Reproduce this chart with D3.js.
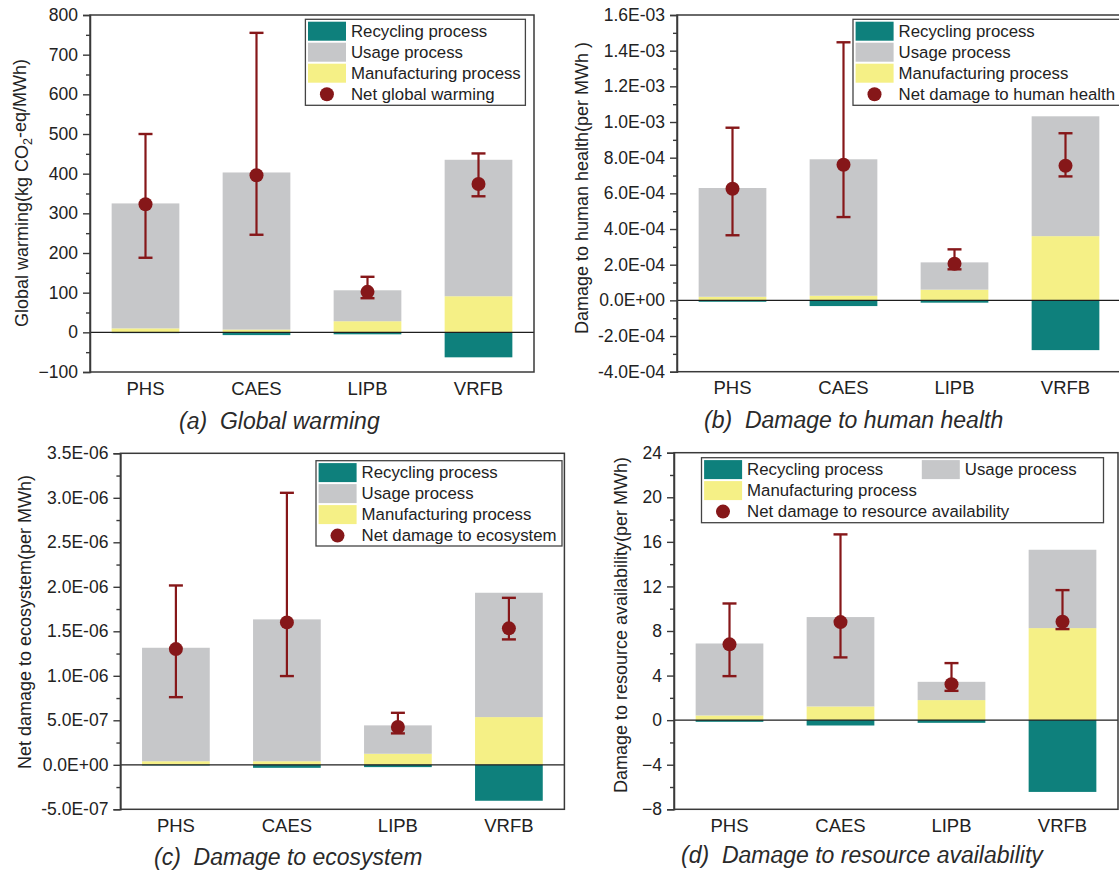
<!DOCTYPE html>
<html>
<head>
<meta charset="utf-8">
<script src="https://cdn.jsdelivr.net/npm/d3@7"></script>
<style>
  body { margin: 0; background: #fff; }
  svg { display: block; font-family: "Liberation Sans", Arial, sans-serif; }
</style>
</head>
<body>
<svg id="chart" width="1119" height="871"></svg>
<script>
// ---- data -------------------------------------------------------------
const categories = ["PHS", "CAES", "LIPB", "VRFB"];

// (a) Global warming, kg CO2-eq/MWh
const gwManufacturing = [10, 7, 28, 91];
const gwUsage         = [315, 396, 78, 344];
const gwRecycling     = [-2, -7, -5, -63];
const gwNet           = [323, 396, 102, 374];
const gwLow           = [188, 246, 86, 343];
const gwHigh          = [500, 755, 140, 451];
const gwTicks         = [-100, 0, 100, 200, 300, 400, 500, 600, 700, 800];

// (b) Damage to human health, per MWh
const hhManufacturing = [2.0e-5, 2.6e-5, 6.0e-5, 3.6e-4];
const hhUsage         = [6.10e-4, 7.65e-4, 1.53e-4, 6.72e-4];
const hhRecycling     = [-0.8e-5, -3.2e-5, -1.3e-5, -2.79e-4];
const hhNet           = [6.26e-4, 7.60e-4, 2.05e-4, 7.55e-4];
const hhLow           = [3.65e-4, 4.67e-4, 1.74e-4, 6.95e-4];
const hhHigh          = [9.68e-4, 1.447e-3, 2.86e-4, 9.37e-4];
const hhTicks         = [-4e-4, -2e-4, 0, 2e-4, 4e-4, 6e-4, 8e-4, 1.0e-3, 1.2e-3, 1.4e-3, 1.6e-3];

// (c) Damage to ecosystem, per MWh
const ecManufacturing = [4.0e-8, 4.0e-8, 1.24e-7, 5.36e-7];
const ecUsage         = [1.275e-6, 1.594e-6, 3.19e-7, 1.397e-6];
const ecRecycling     = [-0.7e-8, -3.4e-8, -2.6e-8, -4.04e-7];
const ecNet           = [1.30e-6, 1.60e-6, 4.24e-7, 1.533e-6];
const ecLow           = [7.6e-7, 9.97e-7, 3.53e-7, 1.409e-6];
const ecHigh          = [2.015e-6, 3.056e-6, 5.84e-7, 1.876e-6];
const ecTicks         = [-5e-7, 0, 5e-7, 1.0e-6, 1.5e-6, 2.0e-6, 2.5e-6, 3.0e-6, 3.5e-6];

// (d) Damage to resource availability, per MWh
const raManufacturing = [0.42, 1.23, 1.8, 8.26];
const raUsage         = [6.46, 8.02, 1.64, 7.03];
const raRecycling     = [-0.15, -0.48, -0.24, -6.44];
const raNet           = [6.8, 8.8, 3.23, 8.83];
const raLow           = [3.95, 5.63, 2.63, 8.17];
const raHigh          = [10.47, 16.67, 5.12, 11.67];
const raTicks         = [-8, -4, 0, 4, 8, 12, 16, 20, 24];

// ---- styling ----------------------------------------------------------
const COLOR = {
  recycling: "#0e807c",
  usage: "#c6c7c9",
  manufacturing: "#f5f086",
  net: "#861719",
  axis: "#3a3a3a",
  text: "#222"
};

// scientific labels such as 1.6E-03, 0.0E+00
function sciLabel(v) {
  if (Math.abs(v) < 1e-20) return "0.0E+00";
  const [m, e] = v.toExponential(1).split("e");
  const n = +e;
  return m + "E" + (n < 0 ? "-" : "+") + String(Math.abs(n)).padStart(2, "0");
}
const plainLabel = d3.format("d");

// minor ticks halfway between majors
function minorTicks(ticks) {
  const out = [];
  for (let i = 0; i < ticks.length - 1; i++) out.push((ticks[i] + ticks[i + 1]) / 2);
  return out;
}

const svg = d3.select("#chart");

function drawPanel(p) {
  const g = svg.append("g");
  const x = d3.scaleBand().domain(categories)
    .range([p.left, p.right]).paddingInner(0.39).paddingOuter(0.195);
  const y = d3.scaleLinear().domain([p.ticks[0], p.ticks[p.ticks.length - 1]])
    .range([p.bottom, p.top]);
  const bw = x.bandwidth();

  const rows = categories.map((c, i) => ({
    cat: c, m: p.manufacturing[i], u: p.usage[i], r: p.recycling[i],
    net: p.net[i], lo: p.low[i], hi: p.high[i]
  }));

  // stacked bars: manufacturing from zero, usage on top, recycling below zero
  g.selectAll(".bar-m").data(rows).join("rect")
    .attr("x", d => x(d.cat)).attr("width", bw)
    .attr("y", d => y(d.m)).attr("height", d => y(0) - y(d.m))
    .attr("fill", COLOR.manufacturing);
  g.selectAll(".bar-u").data(rows).join("rect")
    .attr("x", d => x(d.cat)).attr("width", bw)
    .attr("y", d => y(d.m + d.u)).attr("height", d => y(d.m) - y(d.m + d.u))
    .attr("fill", COLOR.usage);
  g.selectAll(".bar-r").data(rows).join("rect")
    .attr("x", d => x(d.cat)).attr("width", bw)
    .attr("y", y(0)).attr("height", d => y(d.r) - y(0))
    .attr("fill", COLOR.recycling);

  // zero line
  g.append("line")
    .attr("x1", p.left).attr("x2", p.right)
    .attr("y1", y(0)).attr("y2", y(0))
    .attr("stroke", "#1e1e1e").attr("stroke-width", 1.3);

  // error bars and net markers
  const eb = g.selectAll(".err").data(rows).join("g")
    .attr("transform", d => `translate(${x(d.cat) + bw / 2},0)`);
  eb.append("line").attr("y1", d => y(d.lo)).attr("y2", d => y(d.hi))
    .attr("stroke", COLOR.net).attr("stroke-width", 2.2);
  eb.append("line").attr("x1", -7).attr("x2", 7)
    .attr("y1", d => y(d.hi)).attr("y2", d => y(d.hi))
    .attr("stroke", COLOR.net).attr("stroke-width", 2.4);
  eb.append("line").attr("x1", -7).attr("x2", 7)
    .attr("y1", d => y(d.lo)).attr("y2", d => y(d.lo))
    .attr("stroke", COLOR.net).attr("stroke-width", 2.4);
  eb.append("circle").attr("cy", d => y(d.net)).attr("r", 7)
    .attr("fill", COLOR.net);

  // frame
  g.append("rect")
    .attr("x", p.left).attr("y", p.top)
    .attr("width", p.right - p.left).attr("height", p.bottom - p.top)
    .attr("fill", "none").attr("stroke", COLOR.axis).attr("stroke-width", 1.5);

  // left axis: major + minor ticks
  const ax = g.append("g").attr("transform", `translate(${p.left},0)`)
    .call(d3.axisLeft(y).tickValues(p.ticks).tickFormat(p.fmt).tickSize(7).tickPadding(5));
  ax.select(".domain").attr("stroke", COLOR.axis).attr("stroke-width", 1.5);
  ax.selectAll(".tick line").attr("stroke", COLOR.axis).attr("stroke-width", 1.4);
  ax.selectAll(".tick text").attr("fill", COLOR.text)
    .style("font-size", "17.5px").style("font-family", "'Liberation Sans', Arial, sans-serif");
  const axm = g.append("g").attr("transform", `translate(${p.left},0)`)
    .call(d3.axisLeft(y).tickValues(minorTicks(p.ticks)).tickFormat("").tickSize(4));
  axm.select(".domain").remove();
  axm.selectAll(".tick line").attr("stroke", COLOR.axis).attr("stroke-width", 1.4);

  // category labels
  g.selectAll(".cat").data(categories).join("text")
    .attr("x", d => x(d) + bw / 2).attr("y", p.bottom + 22.5)
    .attr("text-anchor", "middle").attr("fill", COLOR.text)
    .style("font-size", "18.5px").text(d => d);

  // y-axis title
  const yt = g.append("text")
    .attr("transform", `translate(${p.titleX},${p.titleY}) rotate(-90)`)
    .attr("text-anchor", "middle").attr("fill", COLOR.text)
    .style("font-size", "18px");
  p.yTitle.forEach(part => {
    const t = yt.append("tspan").text(part.t);
    if (part.sub) t.style("font-size", "12.5px").attr("dy", "0.3em");
    if (part.after) t.attr("dy", "-0.3em");
  });

  // panel caption
  g.append("text")
    .attr("x", p.capX).attr("y", p.capY)
    .attr("fill", "#2a2a2a").style("font-size", "23px").style("font-style", "italic")
    .attr("xml:space", "preserve")
    .text(p.caption);

  // legend
  const L = p.legend;
  const lg = g.append("g").attr("transform", `translate(${L.x},${L.y})`);
  lg.append("rect").attr("width", L.w).attr("height", L.h)
    .attr("fill", "#fff").attr("stroke", "#444").attr("stroke-width", 1.3);
  L.items.forEach(it => {
    const ox = it.col * L.colW;
    const cy = 2.4 + it.row * 21 + 9.5;
    if (it.kind === "rect") {
      lg.append("rect").attr("x", ox + 2.6).attr("y", cy - 9.5)
        .attr("width", 38).attr("height", 19).attr("fill", it.color);
    } else {
      lg.append("circle").attr("cx", ox + 21.5).attr("cy", cy).attr("r", 7)
        .attr("fill", it.color);
    }
    lg.append("text").attr("x", ox + 45.6).attr("y", cy + 5.8)
      .attr("fill", COLOR.text).style("font-size", "16.8px").text(it.label);
  });
}

function legendItems(netLabel, twoCol) {
  if (twoCol) {
    return [
      { kind: "rect", color: COLOR.recycling, label: "Recycling process", col: 0, row: 0 },
      { kind: "rect", color: COLOR.usage, label: "Usage process", col: 1, row: 0 },
      { kind: "rect", color: COLOR.manufacturing, label: "Manufacturing process", col: 0, row: 1 },
      { kind: "dot", color: COLOR.net, label: netLabel, col: 0, row: 2 }
    ];
  }
  return [
    { kind: "rect", color: COLOR.recycling, label: "Recycling process", col: 0, row: 0 },
    { kind: "rect", color: COLOR.usage, label: "Usage process", col: 0, row: 1 },
    { kind: "rect", color: COLOR.manufacturing, label: "Manufacturing process", col: 0, row: 2 },
    { kind: "dot", color: COLOR.net, label: netLabel, col: 0, row: 3 }
  ];
}

drawPanel({
  left: 90, right: 534, top: 15, bottom: 372,
  ticks: gwTicks, fmt: plainLabel,
  manufacturing: gwManufacturing, usage: gwUsage, recycling: gwRecycling,
  net: gwNet, low: gwLow, high: gwHigh,
  yTitle: [{ t: "Global warming(kg CO" }, { t: "2", sub: true }, { t: "-eq/MWh)", after: true }],
  titleX: 28, titleY: 193,
  caption: "(a)  Global warming", capX: 179, capY: 429,
  legend: { x: 305.4, y: 19.3, w: 220, h: 86, colW: 0, items: legendItems("Net global warming") }
});

drawPanel({
  left: 677, right: 1121, top: 15, bottom: 371.7,
  ticks: hhTicks, fmt: sciLabel,
  manufacturing: hhManufacturing, usage: hhUsage, recycling: hhRecycling,
  net: hhNet, low: hhLow, high: hhHigh,
  yTitle: [{ t: "Damage to human health(per MWh )" }],
  titleX: 588, titleY: 188,
  caption: "(b)  Damage to human health", capX: 704, capY: 428,
  legend: { x: 853, y: 19.3, w: 290, h: 86, colW: 0, items: legendItems("Net damage to human health") }
});

drawPanel({
  left: 120.4, right: 564.4, top: 453.3, bottom: 809.3,
  ticks: ecTicks, fmt: sciLabel,
  manufacturing: ecManufacturing, usage: ecUsage, recycling: ecRecycling,
  net: ecNet, low: ecLow, high: ecHigh,
  yTitle: [{ t: "Net damage to ecosystem(per MWh)" }],
  titleX: 31, titleY: 622,
  caption: "(c)  Damage to ecosystem", capX: 154, capY: 865,
  legend: { x: 316, y: 460.7, w: 246, h: 85.3, colW: 0, items: legendItems("Net damage to ecosystem") }
});

drawPanel({
  left: 674, right: 1118, top: 452.7, bottom: 809.3,
  ticks: raTicks, fmt: plainLabel,
  manufacturing: raManufacturing, usage: raUsage, recycling: raRecycling,
  net: raNet, low: raLow, high: raHigh,
  yTitle: [{ t: "Damage to resource availability(per MWh)" }],
  titleX: 627, titleY: 625,
  caption: "(d)  Damage to resource availability", capX: 681, capY: 863,
  legend: { x: 701.5, y: 457.7, w: 402, h: 65, colW: 217.7,
            items: legendItems("Net damage to resource availability", true) }
});
</script>
</body>
</html>
